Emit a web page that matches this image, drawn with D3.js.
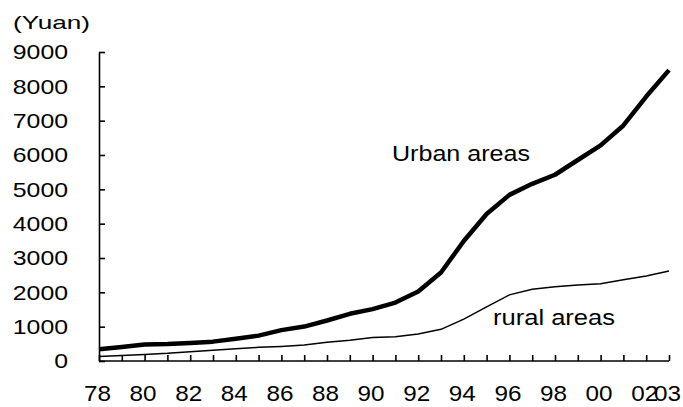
<!DOCTYPE html>
<html>
<head>
<meta charset="utf-8">
<script src="https://cdn.jsdelivr.net/npm/d3@7/dist/d3.min.js"></script>
<style>
  body { margin: 0; background: #fff; }
  svg { display: block; font-family: "Liberation Sans", Arial, sans-serif; }
  .axis path, .axis line { stroke: #000; stroke-width: 1.6px; }
</style>
</head>
<body>
<svg id="chart" width="683" height="407"></svg>
<script>
// per capita income, yuan
var years = [1978, 1979, 1980, 1981, 1982, 1983, 1984, 1985, 1986, 1987, 1988, 1989, 1990,
             1991, 1992, 1993, 1994, 1995, 1996, 1997, 1998, 1999, 2000, 2001, 2002, 2003];
var urban = [343, 405, 478, 492, 527, 564, 651, 739, 900, 1002, 1180, 1374, 1510,
             1701, 2027, 2577, 3496, 4283, 4839, 5160, 5425, 5854, 6280, 6860, 7703, 8472];
var rural = [134, 160, 191, 223, 270, 310, 355, 398, 424, 463, 545, 602, 686,
             709, 784, 922, 1221, 1578, 1926, 2090, 2162, 2210, 2253, 2366, 2476, 2622];
var yTicks = [0, 1000, 2000, 3000, 4000, 5000, 6000, 7000, 8000, 9000];
var xTicks = [1978, 1980, 1982, 1984, 1986, 1988, 1990, 1992, 1994, 1996, 1998, 2000, 2002, 2003];

var svg = d3.select("#chart");

var x = d3.scaleLinear().domain([1978, 2003]).range([99, 669]);
var y = d3.scaleLinear().domain([0, 9000]).range([361, 52]);

// x axis: inward ticks every year, labels every two years
var xAxis = svg.append("g")
    .attr("class", "axis")
    .attr("transform", "translate(0,361)")
    .call(d3.axisBottom(x)
      .tickValues(years)
      .tickSizeInner(-6)
      .tickSizeOuter(0)
      .tickPadding(24)
      .tickFormat(function(d) { return xTicks.indexOf(d) >= 0 ? d3.format("02")(d % 100) : ""; }));
xAxis.selectAll("text")
    .attr("fill", "#000")
    .attr("font-size", "22px")
    .attr("dx", -2)
    .attr("textLength", function(d) { return xTicks.indexOf(d) >= 0 ? 27 : null; })
    .attr("lengthAdjust", "spacingAndGlyphs");
xAxis.select(".domain").attr("d", "M99,0H669");

var yAxis = svg.append("g")
    .attr("class", "axis")
    .attr("transform", "translate(99,0)")
    .call(d3.axisLeft(y)
      .tickValues(yTicks)
      .tickSizeInner(-6)
      .tickSizeOuter(0)
      .tickPadding(31)
      .tickFormat(d3.format("d")));
yAxis.selectAll("text")
    .attr("fill", "#000")
    .attr("font-size", "21px")
    .attr("textLength", function(d) { return String(d).length * 13.8; })
    .attr("lengthAdjust", "spacingAndGlyphs");

svg.append("text")
    .attr("x", 13)
    .attr("y", 29)
    .attr("font-size", "19px")
    .attr("textLength", 77)
    .attr("lengthAdjust", "spacingAndGlyphs")
    .text("(Yuan)");

var line = d3.line()
    .x(function(d, i) { return x(years[i]); })
    .y(function(d) { return y(d); });

svg.append("path")
    .datum(rural)
    .attr("fill", "none")
    .attr("stroke", "#000")
    .attr("stroke-width", 1.5)
    .attr("d", line);

svg.append("path")
    .datum(urban)
    .attr("fill", "none")
    .attr("stroke", "#000")
    .attr("stroke-width", 4.5)
    .attr("stroke-linejoin", "round")
    .attr("d", line);

svg.append("text")
    .attr("x", 392)
    .attr("y", 161)
    .attr("font-size", "22px")
    .attr("textLength", 138)
    .attr("lengthAdjust", "spacingAndGlyphs")
    .text("Urban areas");

svg.append("text")
    .attr("x", 493)
    .attr("y", 325)
    .attr("font-size", "22px")
    .attr("textLength", 122)
    .attr("lengthAdjust", "spacingAndGlyphs")
    .text("rural areas");
</script>
</body>
</html>
